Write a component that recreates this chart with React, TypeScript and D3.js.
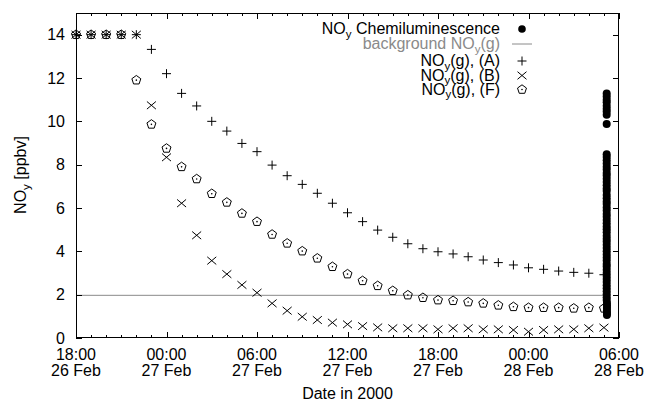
import React from "react";
import * as d3 from "d3";

// ---- data ----
const startTime = Date.UTC(2000, 1, 26, 18);
const endTime = Date.UTC(2000, 1, 28, 6);
const modelTimes = d3.utcHour.range(new Date(startTime), new Date(Date.UTC(2000, 1, 28, 6)));

const seriesA = [14, 14, 14, 14, 14, 13.32, 12.2, 11.29, 10.71, 10.0, 9.55, 8.98, 8.6, 7.98, 7.49, 7.09, 6.68, 6.22, 5.78, 5.37, 4.98, 4.65, 4.35, 4.12, 3.98, 3.88, 3.75, 3.6, 3.48, 3.37, 3.24, 3.17, 3.09, 3.03, 2.99, 2.92];
const seriesB = [14, 14, 14, 14, 14, 10.74, 8.34, 6.22, 4.74, 3.57, 2.95, 2.45, 2.09, 1.6, 1.26, 0.98, 0.83, 0.71, 0.63, 0.55, 0.49, 0.45, 0.45, 0.45, 0.4, 0.45, 0.45, 0.4, 0.4, 0.37, 0.29, 0.37, 0.4, 0.4, 0.45, 0.48];
const seriesF = [14, 14, 14, 14, 11.9, 9.86, 8.75, 7.9, 7.34, 6.66, 6.26, 5.75, 5.37, 4.78, 4.37, 4.01, 3.68, 3.29, 2.95, 2.64, 2.41, 2.18, 1.98, 1.86, 1.75, 1.72, 1.66, 1.6, 1.51, 1.44, 1.4, 1.4, 1.4, 1.37, 1.4, 1.37];

const backgroundNOy = 1.97;
const backgroundStart = Date.UTC(2000, 1, 26, 18);
const backgroundEnd = Date.UTC(2000, 1, 28, 5);

// chemiluminescence measurements: [minutes after 05:00 28 Feb, value]
const chemData: [number, number][] = [
  [11, 11.28], [11, 11.15], [11, 11.0], [11, 10.88], [11, 10.72], [11, 10.58], [11, 10.45], [11, 10.3], [11, 9.88],
  [11, 8.48], [11, 8.35], [11, 8.2], [11, 8.05], [11, 7.9], [11, 7.78], [11, 7.62], [11, 7.5], [11, 7.35],
  [11, 7.2], [11, 7.05], [11, 6.9], [11, 6.78], [11, 6.6], [11, 6.45], [11, 6.3], [11, 6.18], [11, 6.02],
  [11, 5.88], [11, 5.72], [11, 5.6], [11, 5.45], [11, 5.3], [11, 5.15], [11, 5.02], [11, 4.88], [11, 4.72],
  [11, 4.58], [11, 4.45], [11, 4.3], [11, 4.15], [11, 4.0], [11, 3.85], [11, 3.72], [11, 3.58], [11, 3.42],
  [11, 3.3], [11, 3.15], [11, 3.0], [11, 2.86], [11, 2.72], [11, 2.58], [11, 2.44], [11, 2.3], [11, 2.16],
  [11, 2.02], [11, 1.88], [11, 1.75], [12, 1.62], [12, 1.5], [12, 1.38], [12, 1.26], [12, 1.15], [12, 1.06],
];
const chemBase = Date.UTC(2000, 1, 28, 5);

const yTicks = [0, 2, 4, 6, 8, 10, 12, 14];

// ---- layout ----
const W = 645;
const H = 402;
const L = 76;
const R = 619;
const T = 13;
const B = 338;
const FONT = "'Liberation Sans', Arial, Helvetica, sans-serif";

const x = d3.scaleUtc().domain([new Date(startTime), new Date(endTime)]).range([L, R]);
const y = d3.scaleLinear().domain([0, 15]).range([B, T]);

const majorX = d3.utcHour.every(6)!.range(new Date(startTime), new Date(endTime + 1));
const minorX = d3.utcHour.range(new Date(startTime), new Date(endTime + 1));
const fmtTime = d3.utcFormat("%H:%M");
const fmtDate = d3.utcFormat("%d %b");

const plusPath = "M-4.5,0H4.5M0,-4.5V4.5";
const crossPath = "M-4.5,-3.8L4.5,3.8M-4.5,3.8L4.5,-3.8";
const pentPath = (() => {
  const r = 4.7;
  const pts = d3.range(5).map((k) => {
    const a = -Math.PI / 2 + (k * 2 * Math.PI) / 5;
    return [r * Math.cos(a), r * Math.sin(a)];
  });
  return "M" + pts.map((p) => p[0].toFixed(2) + "," + p[1].toFixed(2)).join("L") + "Z";
})();

function Pentagon({ cx, cy }: { cx: number; cy: number }) {
  return (
    <g transform={`translate(${cx},${cy})`}>
      <path d={pentPath} fill="none" stroke="black" strokeWidth={1} />
      <circle r={0.8} fill="black" />
    </g>
  );
}

function NOyLabel({ suffix, sub = 11.5 }: { suffix: string; sub?: number }) {
  return (
    <>
      <tspan>NO</tspan>
      <tspan fontSize={sub} dy={3.5}>y</tspan>
      <tspan dy={-3.5}>{suffix}</tspan>
    </>
  );
}

export default function App() {
  const legendX = 500;
  const symX = 522;
  const rows = [29, 44, 61, 75.5, 89.5];
  return (
    <svg
      width={W}
      height={H}
      style={{ position: "absolute", left: 0, top: 0, background: "white" }}
      fontFamily={FONT}
      fontSize={16}
    >
      <rect x={0} y={0} width={W} height={H} fill="white" />

      {/* background line */}
      <line
        x1={x(new Date(backgroundStart))}
        x2={x(new Date(backgroundEnd))}
        y1={y(backgroundNOy)}
        y2={y(backgroundNOy)}
        stroke="#8a8a8a"
        strokeWidth={1}
      />

      {/* chemiluminescence */}
      {chemData.map(([m, v], i) => (
        <circle key={"c" + i} cx={x(new Date(chemBase + m * 60000))} cy={y(v)} r={4} fill="black" />
      ))}

      {/* series A */}
      {seriesA.map((v, i) => (
        <path key={"a" + i} d={plusPath} transform={`translate(${x(modelTimes[i])},${y(v)})`} stroke="black" strokeWidth={1} fill="none" />
      ))}
      {/* series B */}
      {seriesB.map((v, i) => (
        <path key={"b" + i} d={crossPath} transform={`translate(${x(modelTimes[i])},${y(v)})`} stroke="black" strokeWidth={1} fill="none" />
      ))}
      {/* series F */}
      {seriesF.map((v, i) => (
        <Pentagon key={"f" + i} cx={x(modelTimes[i])} cy={y(v)} />
      ))}

      {/* frame */}
      <rect x={L + 0.5} y={T + 0.5} width={R - L - 1} height={B - T - 1} fill="none" stroke="black" strokeWidth={1} />

      {/* x ticks */}
      {minorX.map((d, i) => {
        const xx = Math.round(x(d)) + 0.5;
        const major = d.getUTCHours() % 6 === 0;
        const len = major ? 6 : 3;
        return (
          <g key={"xt" + i}>
            <line x1={xx} x2={xx} y1={B} y2={B - len} stroke="black" />
            <line x1={xx} x2={xx} y1={T} y2={T + len} stroke="black" />
          </g>
        );
      })}
      {majorX.map((d, i) => (
        <text key={"xl" + i} x={x(d)} textAnchor="middle" fill="black">
          <tspan x={x(d)} y={360}>{fmtTime(d)}</tspan>
          <tspan x={x(d)} y={376}>{fmtDate(d)}</tspan>
        </text>
      ))}

      {/* y ticks */}
      {yTicks.map((v) => {
        const yy = Math.round(y(v)) + 0.5;
        return (
          <g key={"yt" + v}>
            <line x1={L} x2={L + 6} y1={yy} y2={yy} stroke="black" />
            <line x1={R} x2={R - 6} y1={yy} y2={yy} stroke="black" />
            <text x={65} y={y(v) + 5.5} textAnchor="end" fill="black">{v}</text>
          </g>
        );
      })}

      {/* axis titles */}
      <text transform="translate(26,175) rotate(-90)" textAnchor="middle" fill="black">
        <tspan>NO</tspan>
        <tspan fontSize={11.5} dy={3.5}>y</tspan>
        <tspan dy={-3.5}> [ppbv]</tspan>
      </text>
      <text x={(L + R) / 2} y={399} textAnchor="middle" fill="black">Date in 2000</text>

      {/* legend */}
      <text x={legendX} y={rows[0] + 5} textAnchor="end" fill="black">
        <NOyLabel suffix=" Chemiluminescence" />
      </text>
      <circle cx={symX} cy={rows[0]} r={3.8} fill="black" />

      <text x={legendX} y={rows[1] + 5} textAnchor="end" fill="#8a8a8a">
        <tspan>background NO</tspan>
        <tspan fontSize={11.5} dy={3.5}>y</tspan>
        <tspan dy={-3.5}>(g)</tspan>
      </text>
      <line x1={symX - 10} x2={symX + 10} y1={rows[1]} y2={rows[1]} stroke="#8a8a8a" />

      <text x={legendX} y={rows[2] + 5} textAnchor="end" fill="black">
        <NOyLabel suffix="(g), (A)" />
      </text>
      <path d={plusPath} transform={`translate(${symX},${rows[2]})`} stroke="black" fill="none" />

      <text x={legendX} y={rows[3] + 5} textAnchor="end" fill="black">
        <NOyLabel suffix="(g), (B)" />
      </text>
      <path d={crossPath} transform={`translate(${symX},${rows[3]})`} stroke="black" fill="none" />

      <text x={legendX} y={rows[4] + 5} textAnchor="end" fill="black">
        <NOyLabel suffix="(g), (F)" />
      </text>
      <Pentagon cx={symX} cy={rows[4]} />
    </svg>
  );
}
